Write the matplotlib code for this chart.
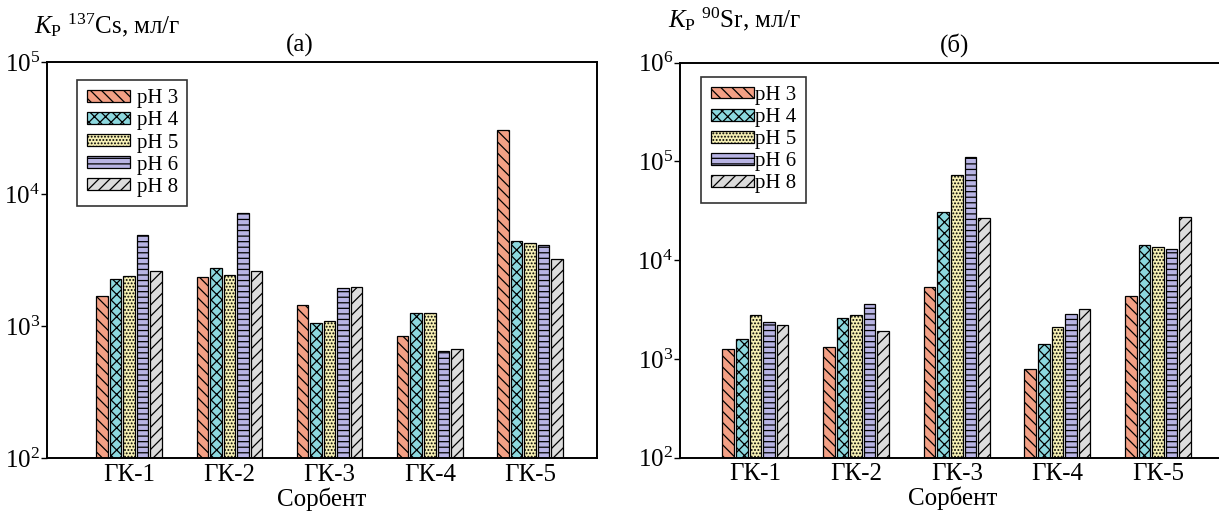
import matplotlib
matplotlib.use('Agg')
import matplotlib.pyplot as plt
import numpy as np

plt.rcParams['font.family'] = ['Liberation Serif', 'DejaVu Serif']
plt.rcParams['mathtext.fontset'] = 'custom'
plt.rcParams['mathtext.rm'] = 'Liberation Serif'
plt.rcParams['mathtext.it'] = 'Liberation Serif:italic'
plt.rcParams['hatch.linewidth'] = 0.9

sorbents = ['ГК-1', 'ГК-2', 'ГК-3', 'ГК-4', 'ГК-5']
ph_labels = ['pH 3', 'pH 4', 'pH 5', 'pH 6', 'pH 8']

# Kd 137Cs, ml/g  (one list per pH, values for ГК-1..ГК-5)
cs_ph3 = [1700, 2380, 1450, 840, 30800]
cs_ph4 = [2300, 2770, 1070, 1260, 4470]
cs_ph5 = [2410, 2440, 1100, 1270, 4320]
cs_ph6 = [4900, 7200, 1960, 650, 4120]
cs_ph8 = [2650, 2650, 1980, 670, 3260]

# Kd 90Sr, ml/g
sr_ph3 = [1250, 1310, 5340, 785, 4330]
sr_ph4 = [1600, 2580, 30900, 1420, 14400]
sr_ph5 = [2780, 2780, 72600, 2120, 13700]
sr_ph6 = [2360, 3570, 110000, 2830, 13100]
sr_ph8 = [2220, 1900, 26500, 3220, 27100]

colors = ['#f3a085', '#8cd8de', '#f6f0b4', '#b8b4e4', '#dcdcdc']
hatches = ['\\\\\\', 'xxx', '.....', '---', '///']

cs_data = [cs_ph3, cs_ph4, cs_ph5, cs_ph6, cs_ph8]
sr_data = [sr_ph3, sr_ph4, sr_ph5, sr_ph6, sr_ph8]

fig = plt.figure(figsize=(12.19, 5.12), dpi=100)
ax1 = fig.add_axes([0.0386, 0.1045, 0.4512, 0.7735])
ax2 = fig.add_axes([0.5578, 0.106, 0.4475, 0.7715])


def draw_panel(ax, data, ylim, xlim, legpos, textpad):
    x = np.arange(len(sorbents))
    step = 0.135
    w = 0.115
    ax.set_yscale('log')
    for i, vals in enumerate(data):
        ax.bar(x + (i - 2) * step, vals, width=w,
               color=colors[i], hatch=hatches[i], edgecolor='black',
               linewidth=0.9, label=ph_labels[i])
    ax.set_ylim(ylim)
    ax.set_xlim(xlim)
    ax.set_xticks(x)
    ax.set_xticklabels(sorbents, fontsize=18)
    ax.tick_params(axis='x', length=0, pad=4)
    ax.tick_params(axis='y', which='major', length=4, width=1, labelsize=18, pad=1)
    ax.tick_params(axis='y', which='minor', length=0)
    ax.set_xlabel('Сорбент', fontsize=18)
    ax.xaxis.set_label_coords(0.5, -0.072)
    for s in ax.spines.values():
        s.set_linewidth(1.4)
    leg = ax.legend(loc='upper left', bbox_to_anchor=legpos, fontsize=15,
                    frameon=True, fancybox=False, edgecolor='black',
                    handlelength=2.1, handleheight=0.5, handletextpad=textpad,
                    labelspacing=0.15, borderpad=0.45, borderaxespad=0)
    leg.get_frame().set_linewidth(1.2)


draw_panel(ax1, cs_data, (100, 1e5), (-0.82, 4.67), (0.055, 0.956), 0.3)
draw_panel(ax2, sr_data, (100, 1e6), (-0.75, 4.67), (0.039, 0.965), 0.05)
ax2.spines['right'].set_visible(False)

fig.text(0.028, 0.95, r'$K_{\mathrm{Р}}$ $^{137}$Cs, мл/г', fontsize=18, va='center')
fig.text(0.246, 0.912, '(а)', fontsize=18, ha='center', va='center')
fig.text(0.548, 0.962, r'$K_{\mathrm{Р}}$ $^{90}$Sr, мл/г', fontsize=18, va='center')
fig.text(0.783, 0.912, '(б)', fontsize=18, ha='center', va='center')

fig.savefig('out.png', dpi=100)
